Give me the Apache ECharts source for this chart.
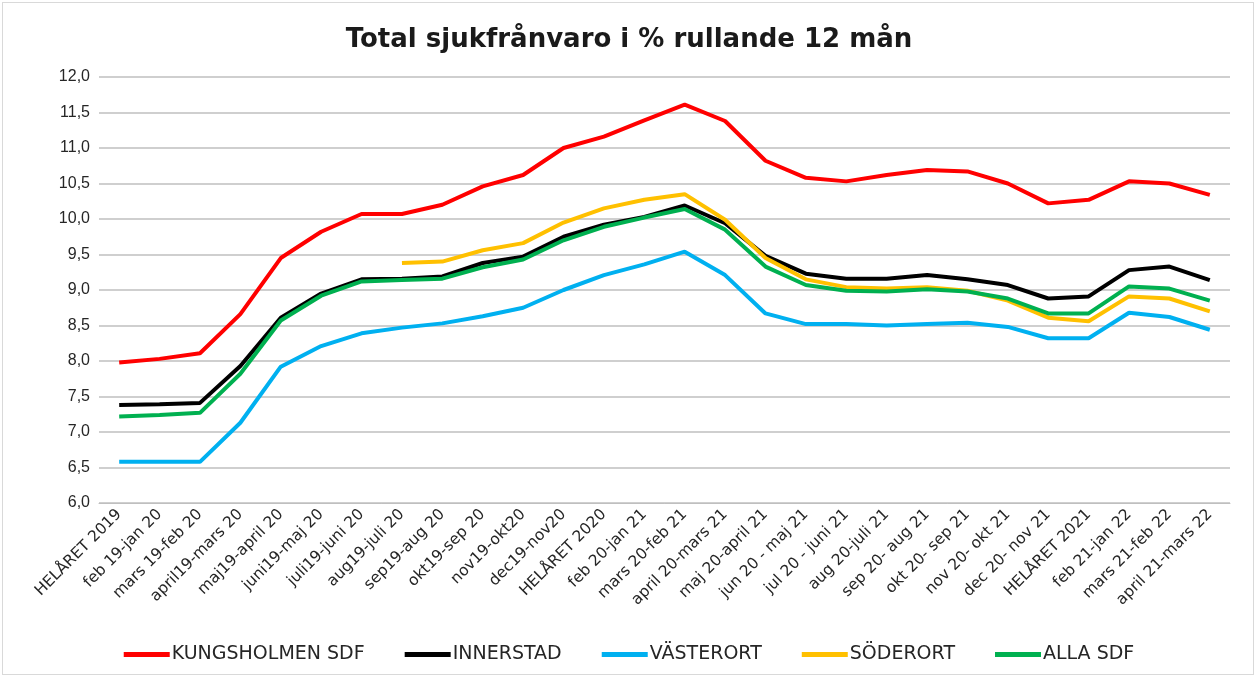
<!DOCTYPE html>
<html><head><meta charset="utf-8">
<script src="https://cdn.jsdelivr.net/npm/echarts@6/dist/echarts.min.js"></script>
<style>
html,body{margin:0;padding:0;background:#fff;}
#wrap{position:absolute;left:2px;top:2px;width:1252px;height:673px;border:1px solid #d9d9d9;box-sizing:border-box;}
#c{position:absolute;left:0;top:0;width:1258px;height:679px;}
</style></head>
<body>
<div id="wrap"></div>
<div id="c"></div>
<script>
const categories = ["HELÅRET 2019","feb 19-jan 20","mars 19-feb 20","april19-mars 20","maj19-april 20","juni19-maj 20","juli19-juni 20","aug19-juli 20","sep19-aug 20","okt19-sep 20","nov19-okt20","dec19-nov20","HELÅRET 2020","feb 20-jan 21","mars 20-feb 21","april 20-mars 21","maj 20-april 21","jun 20 - maj 21","jul 20 - juni 21","aug 20-juli 21","sep 20- aug 21","okt 20- sep 21","nov 20- okt 21","dec 20- nov 21","HELÅRET 2021","feb 21-jan 22","mars 21-feb 22","april 21-mars 22"];
const kungsholmen = [7.98,8.03,8.11,8.66,9.45,9.82,10.07,10.07,10.20,10.46,10.62,11.00,11.16,11.39,11.61,11.38,10.82,10.58,10.53,10.62,10.69,10.67,10.50,10.22,10.27,10.53,10.50,10.34];
const innerstad = [7.38,7.39,7.41,7.93,8.61,8.95,9.15,9.16,9.19,9.38,9.47,9.75,9.92,10.03,10.19,9.94,9.48,9.23,9.16,9.16,9.21,9.15,9.07,8.88,8.91,9.28,9.33,9.14];
const vasterort = [6.58,6.58,6.58,7.13,7.92,8.21,8.39,8.47,8.53,8.63,8.75,9.00,9.21,9.36,9.54,9.21,8.67,8.52,8.52,8.50,8.52,8.54,8.48,8.32,8.32,8.68,8.62,8.44];
const soderort = [null,null,null,null,null,null,null,9.38,9.40,9.56,9.66,9.95,10.15,10.27,10.35,9.99,9.45,9.15,9.04,9.02,9.04,8.99,8.85,8.61,8.56,8.91,8.88,8.70];
const allaSdf = [7.22,7.24,7.27,7.82,8.57,8.92,9.12,9.14,9.16,9.32,9.43,9.70,9.89,10.02,10.14,9.85,9.33,9.07,8.99,8.98,9.01,8.98,8.88,8.67,8.67,9.05,9.02,8.85];
const seriesNames = ["KUNGSHOLMEN SDF","INNERSTAD","VÄSTERORT","SÖDERORT","ALLA SDF"];
const seriesColors = ["#ff0000","#000000","#00b0f0","#ffc000","#00b050"];
const seriesData = [kungsholmen, innerstad, vasterort, soderort, allaSdf];

const chart = echarts.init(document.getElementById('c'));
const font = 'Liberation Sans, Arial, sans-serif';
const wide = 'DejaVu Sans, sans-serif';
chart.setOption({
  animation:false,
  backgroundColor:'transparent',
  title:{text:'Total sjukfrånvaro i % rullande 12 mån',left:'center',top:22,
    textStyle:{fontFamily:wide,fontWeight:'bold',fontSize:26,color:'#1a1a1a'}},
  grid:{left:99,right:28,top:77,bottom:176,containLabel:false},
  legend:{bottom:10,left:'center',itemWidth:46,itemHeight:5,itemGap:40,icon:'rect',
    textStyle:{fontFamily:wide,fontSize:19,color:'#262626',padding:[0,0,0,-3]},
    data:seriesNames},
  xAxis:{type:'category',data:categories,boundaryGap:true,
    axisLine:{lineStyle:{color:'#bfbfbf',width:1}},axisTick:{show:false},
    axisLabel:{rotate:45,interval:0,fontFamily:wide,fontSize:15.5,color:'#262626',margin:9}},
  yAxis:{type:'value',min:6,max:12,interval:0.5,
    axisLine:{show:false},axisTick:{show:false},
    splitLine:{lineStyle:{color:'#bfbfbf',width:1.5}},
    axisLabel:{fontFamily:font,fontSize:16,color:'#262626',margin:9,
      formatter:v=>v.toFixed(1).replace('.',',')}},
  series: seriesNames.map((n,i)=>({name:n,type:'line',data:seriesData[i],
    showSymbol:false,symbol:'none',connectNulls:false,
    lineStyle:{color:seriesColors[i],width:4},itemStyle:{color:seriesColors[i]}}))
});
</script>
</body></html>
